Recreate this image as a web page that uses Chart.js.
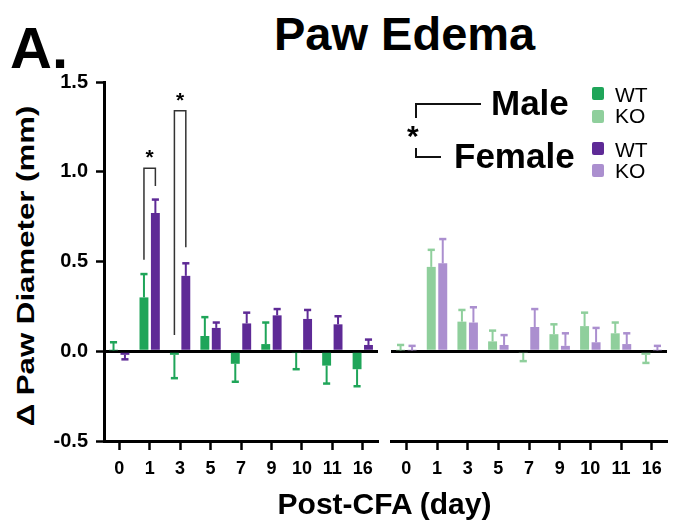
<!DOCTYPE html>
<html>
<head>
<meta charset="utf-8">
<title>Paw Edema</title>
<script src="https://cdn.jsdelivr.net/npm/chart.js"></script>
<style>
    body, html { margin: 0; background: #fff; }
    #wrap { position: relative; width: 673px; height: 527px; font-family: "Liberation Sans", Arial, sans-serif; font-weight: bold; color: #000; }
    .abs { position: absolute; white-space: nowrap; }
    .line { position: absolute; background: #111; }
    .sq { position: absolute; width: 12px; height: 13px; border-radius: 2px; }
    .lg { position: absolute; font-weight: normal; font-size: 21px; line-height: 21px; }
    #ytitle { position: absolute; left: 26px; top: 266px; font-size: 24px; line-height: 28px; white-space: nowrap;
              transform: translate(-50%, -50%) rotate(-90deg) scaleX(1.3); }
</style>
</head>
<body>
<div id="wrap">
    <div class="abs" style="left:10px;top:13px;font-size:58px;line-height:70px;">A.</div>
    <div class="abs" style="left:274px;top:8px;font-size:47px;line-height:52px;">Paw Edema</div>
    <div id="ytitle">&Delta; Paw Diameter (mm)</div>
    <canvas id="left" class="abs" style="left:0;top:70px;" width="385" height="420"></canvas>
    <canvas id="right" class="abs" style="left:385px;top:70px;" width="288" height="420"></canvas>
    <div class="abs" style="left:0;width:673px;top:486px;text-align:center;font-size:30px;line-height:36px;padding-left:96px;box-sizing:border-box;">Post-CFA (day)</div>

    <!-- legend -->
    <div class="line" style="left:415px;top:103px;width:66px;height:2px;"></div>
    <div class="line" style="left:415px;top:103px;width:2px;height:15px;"></div>
    <div class="abs" style="left:407px;top:121px;font-size:30px;line-height:30px;">*</div>
    <div class="line" style="left:415px;top:148px;width:2px;height:10px;"></div>
    <div class="line" style="left:415px;top:156px;width:26px;height:2px;"></div>
    <div class="abs" style="left:491px;top:84px;font-size:35px;line-height:38px;">Male</div>
    <div class="abs" style="left:454px;top:137px;font-size:35px;line-height:38px;">Female</div>
    <div class="sq" style="left:592px;top:87px;background:#1fa559;"></div>
    <div class="sq" style="left:592px;top:110px;background:#8fcf9c;"></div>
    <div class="sq" style="left:592px;top:142px;background:#5e2a96;"></div>
    <div class="sq" style="left:592px;top:164px;background:#ab8fcf;"></div>
    <div class="lg" style="left:615px;top:84px;">WT</div>
    <div class="lg" style="left:615px;top:105px;">KO</div>
    <div class="lg" style="left:615px;top:139px;">WT</div>
    <div class="lg" style="left:615px;top:160px;">KO</div>
</div>

<script>
    // Post-CFA days
    const days = ["0", "1", "3", "5", "7", "9", "10", "11", "16"];

    // WT (left panel)
    const wtMale = [0.005, 0.30, -0.02, 0.085, -0.07, 0.04, -0.01, -0.08, -0.10];
    const wtMaleErr = [0.045, 0.13, 0.13, 0.105, 0.10, 0.12, 0.09, 0.10, 0.095];
    const wtFemale = [-0.02, 0.77, 0.42, 0.13, 0.155, 0.20, 0.18, 0.15, 0.035];
    const wtFemaleErr = [0.025, 0.075, 0.07, 0.03, 0.06, 0.035, 0.05, 0.045, 0.03];

    // KO (right panel)
    const koMale = [0.005, 0.47, 0.165, 0.055, -0.01, 0.095, 0.14, 0.10, -0.02];
    const koMaleErr = [0.03, 0.095, 0.065, 0.06, 0.045, 0.055, 0.075, 0.06, 0.045];
    const koFemale = [0.005, 0.49, 0.16, 0.035, 0.135, 0.03, 0.05, 0.04, 0.005];
    const koFemaleErr = [0.025, 0.135, 0.085, 0.055, 0.10, 0.07, 0.08, 0.06, 0.025];

    const yTicks = [-0.5, 0.0, 0.5, 1.0, 1.5];

    // significance brackets on WT panel: [day index, male end, female end, top]
    const brackets = [
        [1, 0.51, 0.92, 1.02],
        [2, 0.09, 0.58, 1.34],
    ];

    const FONT = "'Liberation Sans', Arial, sans-serif";

    // one-sided error bars (away from zero)
    const errorBars = {
        id: "errorBars",
        afterDatasetsDraw(chart) {
            const ctx = chart.ctx;
            const y = chart.scales.y;
            chart.data.datasets.forEach((ds, di) => {
                const meta = chart.getDatasetMeta(di);
                meta.data.forEach((bar, i) => {
                    const v = ds.data[i];
                    const e = ds.err[i];
                    const y0 = y.getPixelForValue(v);
                    const y1 = y.getPixelForValue(v + (v >= 0 ? e : -e));
                    const half = bar.width * 0.4;
                    ctx.save();
                    ctx.strokeStyle = ds.backgroundColor;
                    ctx.lineWidth = 2;
                    ctx.beginPath();
                    ctx.moveTo(bar.x, y0);
                    ctx.lineTo(bar.x, y1);
                    ctx.stroke();
                    ctx.lineWidth = 2.5;
                    ctx.beginPath();
                    ctx.moveTo(bar.x - half, y1);
                    ctx.lineTo(bar.x + half, y1);
                    ctx.stroke();
                    ctx.restore();
                });
            });
        }
    };

    const sigBrackets = {
        id: "sigBrackets",
        afterDatasetsDraw(chart) {
            const ctx = chart.ctx;
            const y = chart.scales.y;
            const m0 = chart.getDatasetMeta(0);
            const m1 = chart.getDatasetMeta(1);
            brackets.forEach(b => {
                const xa = m0.data[b[0]].x;
                const xb = m1.data[b[0]].x;
                const top = y.getPixelForValue(b[3]);
                ctx.save();
                ctx.strokeStyle = "#333";
                ctx.lineWidth = 1.5;
                ctx.beginPath();
                ctx.moveTo(xa, y.getPixelForValue(b[1]));
                ctx.lineTo(xa, top);
                ctx.lineTo(xb, top);
                ctx.lineTo(xb, y.getPixelForValue(b[2]));
                ctx.stroke();
                ctx.fillStyle = "#000";
                ctx.font = "bold 21px " + FONT;
                ctx.textAlign = "center";
                ctx.textBaseline = "bottom";
                ctx.fillText("*", (xa + xb) / 2, top + 1);
                ctx.restore();
            });
        }
    };

    function makeChart(id, male, maleErr, female, femaleErr, colors, showY, padding) {
        const ctx = document.getElementById(id).getContext("2d");
        const plugins = [errorBars];
        if (showY) plugins.push(sigBrackets);
        return new Chart(ctx, {
            type: "bar",
            data: {
                labels: days,
                datasets: [
                    { label: "Male", data: male, err: maleErr, backgroundColor: colors[0] },
                    { label: "Female", data: female, err: femaleErr, backgroundColor: colors[1] },
                ],
            },
            options: {
                responsive: false,
                animation: false,
                layout: { padding: padding },
                datasets: { bar: { categoryPercentage: 0.75, barPercentage: 0.78 } },
                plugins: { legend: { display: false }, tooltip: { enabled: false } },
                scales: {
                    x: {
                        offset: true,
                        afterFit: s => { s.height = 49; },
                        border: { color: "#000", width: 3 },
                        grid: { offset: false, drawOnChartArea: false, drawTicks: true, tickLength: 9, tickColor: "#000", tickWidth: 2.5 },
                        ticks: { color: "#000", padding: 8, font: { family: "'Liberation Sans Narrow', " + FONT, weight: "bold", size: 18 } },
                    },
                    y: {
                        min: -0.5,
                        max: 1.5,
                        z: 1,
                        afterFit: s => {
                            s.width = showY ? 94 : 0;
                            s.paddingTop = 0;
                            s.paddingBottom = 0;
                        },
                        afterBuildTicks: s => { s.ticks = yTicks.map(v => ({ value: v })); },
                        border: { display: showY, color: "#000", width: 3 },
                        grid: {
                            color: c => (c.tick && c.tick.value === 0 ? "#000" : "rgba(0,0,0,0)"),
                            lineWidth: 3,
                            drawTicks: showY,
                            tickLength: 8,
                            tickColor: "#000",
                            tickWidth: 2.5,
                        },
                        ticks: {
                            display: showY,
                            color: "#000",
                            padding: 8,
                            font: { family: FONT, weight: "bold", size: 20 },
                            callback: v => v.toFixed(1),
                        },
                    },
                },
            },
            plugins: plugins,
        });
    }

    makeChart("left", wtMale, wtMaleErr, wtFemale, wtFemaleErr, ["#1fa559", "#5e2a96"], true,
        { left: 10, right: 7, top: 12, bottom: 0 });
    makeChart("right", koMale, koMaleErr, koFemale, koFemaleErr, ["#8fcf9c", "#ab8fcf"], false,
        { left: 6, right: 6, top: 12, bottom: 0 });
</script>
</body>
</html>
